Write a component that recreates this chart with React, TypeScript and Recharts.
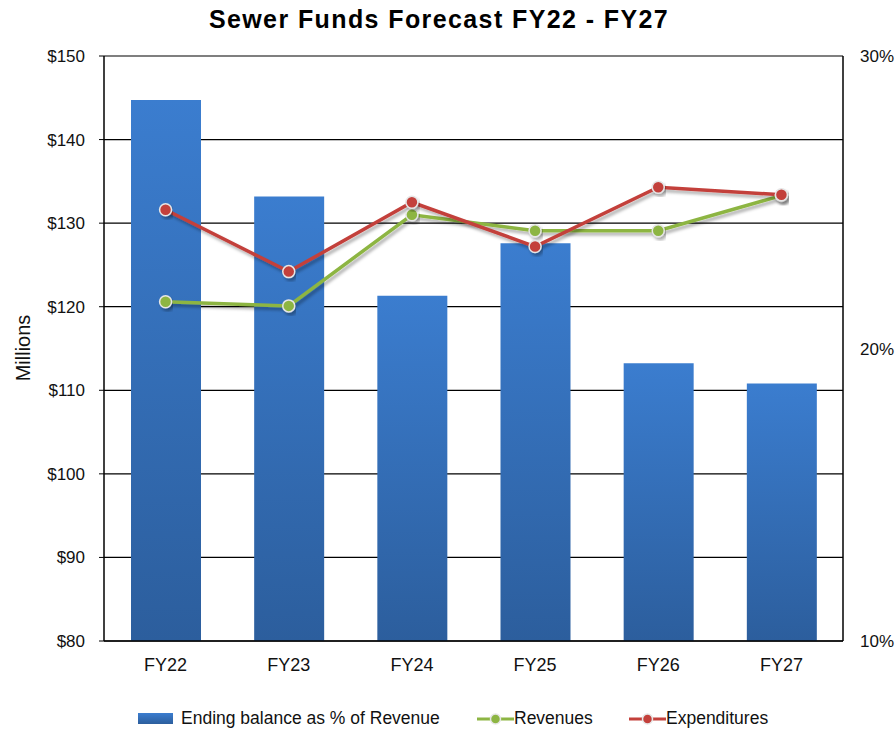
import { ComposedChart, Bar, Line, XAxis, YAxis, CartesianGrid } from "recharts";

const years = ["FY22", "FY23", "FY24", "FY25", "FY26", "FY27"];
const endingBalancePct = [28.5, 25.2, 21.8, 23.6, 19.5, 18.8];
const revenues = [120.6, 120.1, 131.0, 129.1, 129.1, 133.3];
const expenditures = [131.6, 124.2, 132.5, 127.2, 134.3, 133.4];

const leftTicks = [80, 90, 100, 110, 120, 130, 140, 150];
const rightTicks = [10, 20, 30];
// minor tick marks, every $2.5
const minorTicks = [
    82.5, 85, 87.5, 92.5, 95, 97.5, 102.5, 105, 107.5, 112.5, 115, 117.5,
    122.5, 125, 127.5, 132.5, 135, 137.5, 142.5, 145, 147.5,
];

const data = years.map((year, i) => ({
    year,
    balance: endingBalancePct[i],
    revenues: revenues[i],
    expenditures: expenditures[i],
}));

const FONT = "Arial, 'Liberation Sans', sans-serif";
const GREEN = "#8DB543";
const RED = "#C3403B";

const LineIcon = ({ color }: { color: string }) => (
    <svg width={37} height={14} style={{ verticalAlign: "middle" }}>
        <line x1={0} y1={7} x2={37} y2={7} stroke={color} strokeWidth={3} />
        <circle cx={18.5} cy={7} r={5} fill={color} stroke="#e6e6e6" strokeWidth={1.5} />
    </svg>
);

const minorAxis = (id: string, orientation: "left" | "right", mirror: boolean) => (
    <YAxis
        key={id}
        yAxisId={id}
        orientation={orientation}
        mirror={mirror}
        width={0}
        domain={[80, 150]}
        ticks={minorTicks}
        tick={false}
        axisLine={false}
        tickLine={{ stroke: "#000" }}
        tickSize={3}
    />
);

export default function App() {
    return (
        <div style={{ position: "relative", width: 896, height: 729, fontFamily: FONT }}>
            <style>{"body{margin:0}"}</style>
            <div
                style={{
                    position: "absolute",
                    top: 5,
                    left: -9,
                    width: 896,
                    textAlign: "center",
                    fontSize: 25,
                    letterSpacing: 1.4,
                    fontWeight: "bold",
                    color: "#000",
                }}
            >
                Sewer Funds Forecast FY22 - FY27
            </div>

            <ComposedChart width={896} height={729} data={data} margin={{ top: 56, right: 0, bottom: 48, left: 0 }}>
                <defs>
                    <linearGradient id="barFill" x1="0" y1="0" x2="0" y2="1">
                        <stop offset="0%" stopColor="#3B7DCF" />
                        <stop offset="100%" stopColor="#2C5E9D" />
                    </linearGradient>
                    <filter id="lineShadow" x="-10%" y="-10%" width="120%" height="140%">
                        <feDropShadow dx={2} dy={3} stdDeviation={1.5} floodColor="#000" floodOpacity={0.3} />
                    </filter>
                </defs>
                {minorAxis("minorL", "left", false)}
                {minorAxis("minorLIn", "left", true)}
                {minorAxis("minorR", "right", false)}
                {minorAxis("minorRIn", "right", true)}
                <CartesianGrid vertical={false} stroke="#000" strokeWidth={1.2} yAxisId="left" />
                <XAxis
                    dataKey="year"
                    height={40}
                    tickLine={false}
                    axisLine={{ stroke: "#000", strokeWidth: 1.5 }}
                    tickMargin={11}
                    tick={{ fontSize: 18, fill: "#111", fontFamily: FONT }}
                />
                <YAxis
                    yAxisId="left"
                    width={104}
                    domain={[80, 150]}
                    ticks={leftTicks}
                    tickFormatter={(v) => `$${v}`}
                    axisLine={{ stroke: "#000", strokeWidth: 1.5 }}
                    tickLine={{ stroke: "#000" }}
                    tickSize={5}
                    tickMargin={14}
                    tick={{ fontSize: 17, fill: "#111", fontFamily: FONT }}
                    label={() => (
                        <text
                            x={23}
                            y={348}
                            transform="rotate(-90 23 348)"
                            textAnchor="middle"
                            dominantBaseline="central"
                            fontSize={20}
                            fontFamily={FONT}
                            fill="#111"
                        >
                            Millions
                        </text>
                    )}
                />
                <YAxis
                    yAxisId="right"
                    orientation="right"
                    width={53}
                    domain={[10, 30]}
                    ticks={rightTicks}
                    tickFormatter={(v) => `${v}%`}
                    axisLine={{ stroke: "#000", strokeWidth: 1.5 }}
                    tickLine={false}
                    tickSize={4}
                    tickMargin={13}
                    tick={{ fontSize: 17, fill: "#111", fontFamily: FONT }}
                />
                <Bar
                    yAxisId="right"
                    dataKey="balance"
                    fill="url(#barFill)"
                    barSize={70}
                    isAnimationActive={false}
                />
                <Line
                    yAxisId="left"
                    dataKey="revenues"
                    stroke={GREEN}
                    strokeWidth={3.5}
                    filter="url(#lineShadow)"
                    dot={{ r: 6, fill: GREEN, stroke: "#e6e6e6", strokeWidth: 1.5 }}
                    isAnimationActive={false}
                />
                <Line
                    yAxisId="left"
                    dataKey="expenditures"
                    stroke={RED}
                    strokeWidth={3.5}
                    filter="url(#lineShadow)"
                    dot={{ r: 6, fill: RED, stroke: "#e6e6e6", strokeWidth: 1.5 }}
                    isAnimationActive={false}
                />
            </ComposedChart>

            <div
                style={{
                    position: "absolute",
                    top: 708,
                    left: 0,
                    width: 896,
                    fontSize: 17.5,
                    color: "#111",
                    whiteSpace: "nowrap",
                }}
            >
                <span style={{ position: "absolute", left: 138, top: 0, display: "flex", alignItems: "center", gap: 8 }}>
                    <span style={{ display: "inline-block", width: 35, height: 11, background: "linear-gradient(#3B7DCF, #2C5E9D)" }} />
                    Ending balance as % of Revenue
                </span>
                <span style={{ position: "absolute", left: 477, top: 0, display: "flex", alignItems: "center" }}>
                    <LineIcon color={GREEN} />
                    Revenues
                </span>
                <span style={{ position: "absolute", left: 629, top: 0, display: "flex", alignItems: "center" }}>
                    <LineIcon color={RED} />
                    Expenditures
                </span>
            </div>
        </div>
    );
}
